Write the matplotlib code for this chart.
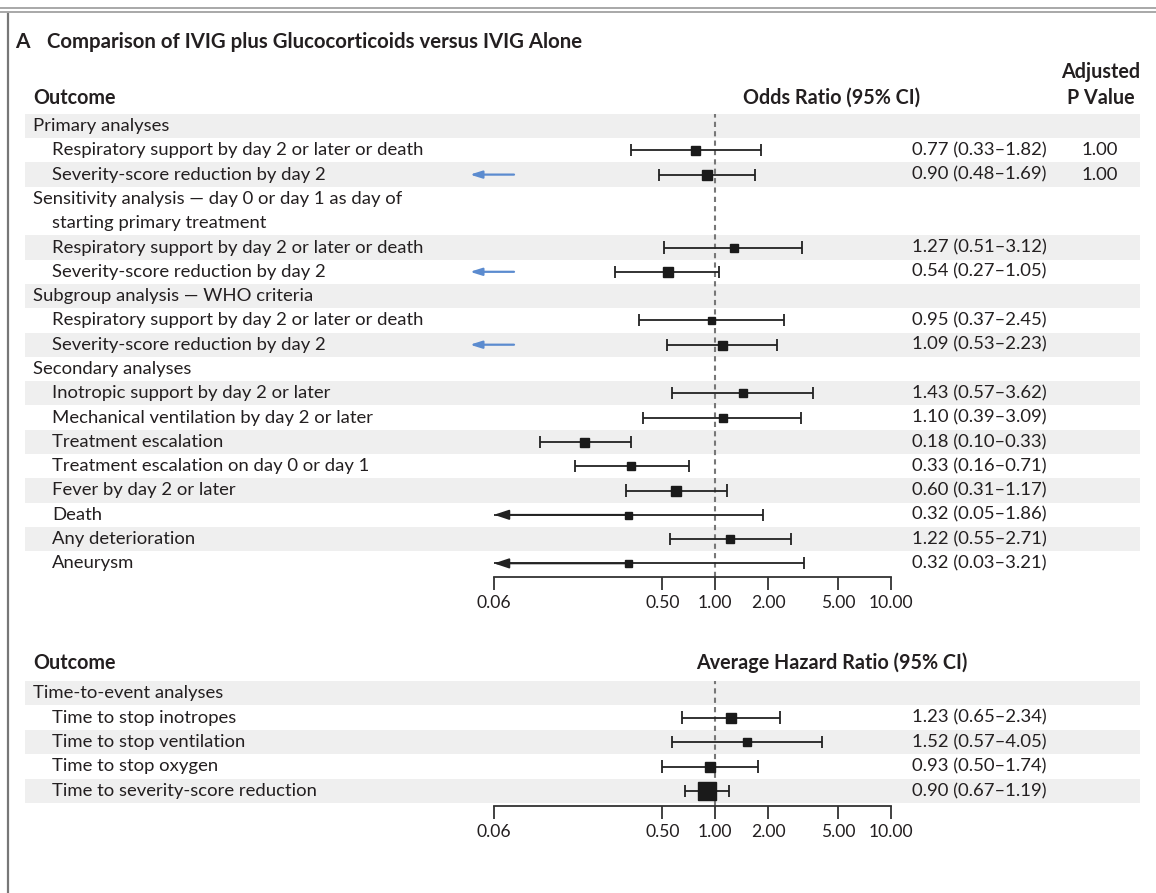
import numpy as np
import matplotlib.pyplot as plt

plt.rcParams['font.family'] = ['Lato', 'DejaVu Sans']

# Panel superior: odds ratio
etiquetas = ["Primary analyses",
             "Respiratory support by day 2 or later or death",
             "Severity-score reduction by day 2",
             "Sensitivity analysis \u2014 day 0 or day 1 as day of\nstarting primary treatment",
             "Respiratory support by day 2 or later or death",
             "Severity-score reduction by day 2",
             "Subgroup analysis \u2014 WHO criteria",
             "Respiratory support by day 2 or later or death",
             "Severity-score reduction by day 2",
             "Secondary analyses",
             "Inotropic support by day 2 or later",
             "Mechanical ventilation by day 2 or later",
             "Treatment escalation",
             "Treatment escalation on day 0 or day 1",
             "Fever by day 2 or later",
             "Death",
             "Any deterioration",
             "Aneurysm"]
nivel = [0, 1, 1, 0, 1, 1, 0, 1, 1, 0, 1, 1, 1, 1, 1, 1, 1, 1]
estim = [None, 0.77, 0.90, None, 1.27, 0.54, None, 0.95, 1.09, None,
         1.43, 1.10, 0.18, 0.33, 0.60, 0.32, 1.22, 0.32]
ic_inf = [None, 0.33, 0.48, None, 0.51, 0.27, None, 0.37, 0.53, None,
          0.57, 0.39, 0.10, 0.16, 0.31, 0.05, 0.55, 0.03]
ic_sup = [None, 1.82, 1.69, None, 3.12, 1.05, None, 2.45, 2.23, None,
          3.62, 3.09, 0.33, 0.71, 1.17, 1.86, 2.71, 3.21]
p_ajustado = [None, "1.00", "1.00"] + [None] * 15
flecha_azul = [False, False, True, False, False, True, False, False, True] + [False] * 9

# Panel inferior: hazard ratio
etiquetas2 = ["Time-to-event analyses",
              "Time to stop inotropes",
              "Time to stop ventilation",
              "Time to stop oxygen",
              "Time to severity-score reduction"]
nivel2 = [0, 1, 1, 1, 1]
estim2 = [None, 1.23, 1.52, 0.93, 0.90]
ic_inf2 = [None, 0.65, 0.57, 0.50, 0.67]
ic_sup2 = [None, 2.34, 4.05, 1.74, 1.19]

ticks = [0.055, 0.5, 1, 2, 5, 10]
ticks_txt = ["0.06", "0.50", "1.00", "2.00", "5.00", "10.00"]

# estilos (tamaño del cuadrado en px)
tam_sup = [0, 9, 10, 0, 8, 10, 0, 7, 9, 0, 8, 8, 9, 8, 10, 7, 8, 7]
tam_inf = [0, 10, 8, 10, 18]

W, H = 1156, 893
COLOR_TXT = "#231f20"
GRIS = "#efefef"
X_MIN, X_MAX = 0.055, 10
PX_IZQ, PX_DER = 494, 891
FS = 13.3
FS_B = 14.2

fig = plt.figure(figsize=(W / 100, H / 100), dpi=100)
bg = fig.add_axes([0, 0, 1, 1])
bg.set_xlim(0, W)
bg.set_ylim(H, 0)
bg.axis("off")

# marco
bg.plot([8, 8], [14, H], color="#777777", lw=1.6)
bg.plot([0, W], [8, 8], color="#999999", lw=1.2)
bg.plot([0, W], [12, 12], color="#999999", lw=1.2)

bg.text(15, 42, "A", fontsize=15, fontweight="bold", color=COLOR_TXT, va="center")
bg.text(47, 42, "Comparison of IVIG plus Glucocorticoids versus IVIG Alone",
        fontsize=14.7, fontweight="bold", color=COLOR_TXT, va="center")


def panel(y0, paso, y_eje, labels, niveles, est, lo, hi, tams, pvals=None, azul=None):
    # unidades de fila
    unidades = []
    u = 0
    for lab in labels:
        unidades.append(u)
        u += lab.count("\n") + 1
    y_px = lambda uu: y0 + paso * uu
    # bandas y textos
    for i, lab in enumerate(labels):
        lineas = lab.split("\n")
        if i % 2 == 0:
            bg.axhspan(y_px(unidades[i] - 0.5), y_px(unidades[i] + len(lineas) - 0.5),
                       xmin=25 / W, xmax=1140 / W, color=GRIS, lw=0, zorder=0)
        x = 33 if niveles[i] == 0 else 52
        for k, linea in enumerate(lineas):
            bg.text(x if k == 0 else 52, y_px(unidades[i] + k), linea, fontsize=FS,
                    color=COLOR_TXT, va="center", ha="left")
        if est[i] is not None:
            bg.text(1047, y_px(unidades[i]), f"{est[i]:.2f} ({lo[i]:.2f}\u2013{hi[i]:.2f})",
                    fontsize=FS, color=COLOR_TXT, va="center", ha="right")
        if pvals is not None and pvals[i] is not None:
            bg.text(1100, y_px(unidades[i]), pvals[i], fontsize=FS, color=COLOR_TXT,
                    va="center", ha="center")
        if azul is not None and azul[i]:
            bg.annotate("", xy=(470, y_px(unidades[i])), xytext=(514, y_px(unidades[i])),
                        arrowprops=dict(arrowstyle="-|>,head_length=0.7,head_width=0.22",
                                        color="#5b8bcf", lw=1.6, shrinkA=0, shrinkB=0))

    # ejes del forest plot
    y_top = y0 - paso * 0.5
    u_bot = (y_eje - y0) / paso
    ax = fig.add_axes([PX_IZQ / W, 1 - y_eje / H, (PX_DER - PX_IZQ) / W, (y_eje - y_top) / H])
    ax.patch.set_alpha(0)
    ax.set_xscale("log")
    ax.set_xlim(X_MIN, X_MAX)
    ax.set_ylim(u_bot, -0.5)
    for s in ["top", "left", "right"]:
        ax.spines[s].set_visible(False)
    ax.spines["bottom"].set_linewidth(1.3)
    ax.spines["bottom"].set_color("#333333")
    ax.set_yticks([])
    ax.set_xticks(ticks)
    ax.set_xticklabels(ticks_txt)
    ax.minorticks_off()
    ax.tick_params(axis="x", direction="out", length=9, width=1.3, color="#333333",
                   labelsize=12.6, labelcolor=COLOR_TXT, pad=4)
    ax.axvline(1, color="#777777", lw=1.5, ls=(0, (2.5, 2)), zorder=1)

    for i in range(len(labels)):
        if est[i] is None:
            continue
        yy = unidades[i]
        izq = max(lo[i], X_MIN)
        ax.hlines(yy, izq, hi[i], color="#222222", lw=1.3, zorder=2)
        ax.vlines(hi[i], yy - 0.25, yy + 0.25, color="#222222", lw=1.3, zorder=2)
        if lo[i] < X_MIN:
            ax.annotate("", xy=(X_MIN, yy), xytext=(est[i], yy),
                        arrowprops=dict(arrowstyle="-|>,head_length=0.9,head_width=0.3",
                                        color="#222222", lw=1.3, shrinkA=0, shrinkB=0),
                        annotation_clip=False)
        else:
            ax.vlines(lo[i], yy - 0.25, yy + 0.25, color="#222222", lw=1.3, zorder=2)
        ax.plot(est[i], yy, marker="s", ms=tams[i] * 0.72, color="#1a1a1a",
                mec="#1a1a1a", zorder=3)
    return ax


bg.text(33, 98, "Outcome", fontsize=FS_B, fontweight="bold", color=COLOR_TXT, va="center")
bg.text(832, 98, "Odds Ratio (95% CI)", fontsize=FS_B, fontweight="bold", color=COLOR_TXT,
        va="center", ha="center")
bg.text(1101, 72, "Adjusted", fontsize=FS_B, fontweight="bold", color=COLOR_TXT,
        va="center", ha="center")
bg.text(1101, 98, "P Value", fontsize=FS_B, fontweight="bold", color=COLOR_TXT,
        va="center", ha="center")

panel(126, 24.3, 577, etiquetas, nivel, estim, ic_inf, ic_sup, tam_sup,
      pvals=p_ajustado, azul=flecha_azul)

bg.text(33, 663, "Outcome", fontsize=FS_B, fontweight="bold", color=COLOR_TXT, va="center")
bg.text(832, 663, "Average Hazard Ratio (95% CI)", fontsize=FS_B, fontweight="bold",
        color=COLOR_TXT, va="center", ha="center")

panel(693, 24.5, 806, etiquetas2, nivel2, estim2, ic_inf2, ic_sup2, tam_inf)

fig.savefig("out.png", dpi=100)
